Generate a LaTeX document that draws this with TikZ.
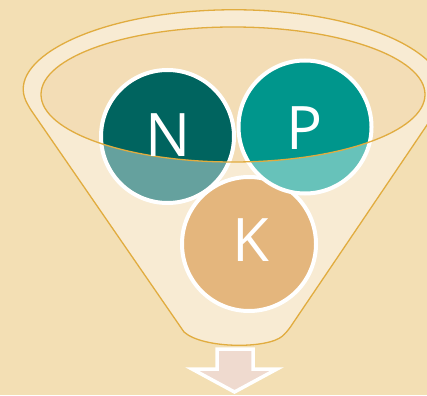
\documentclass[tikz,border=0pt]{standalone}
\usepackage{fontspec}
\setmainfont{Open Sans}
\definecolor{bg}{HTML}{F3DFB4}
\definecolor{funnelfill}{HTML}{F8EBD3}
\definecolor{innerfill}{HTML}{F3DDB6}
\definecolor{rim}{HTML}{E1AC3F}
\definecolor{ndark}{HTML}{00645F}
\definecolor{nlight}{HTML}{65A19E}
\definecolor{pdark}{HTML}{00968C}
\definecolor{plight}{HTML}{67C2BA}
\definecolor{kfill}{HTML}{E4B67D}
\definecolor{arrowfill}{HTML}{EFDACF}
\tikzset{
  ring/.style={draw=white, line width=4pt},
  letter/.style={text=white, font=\fontsize{60}{60}\selectfont, inner sep=0pt},
}
\begin{document}
\begin{tikzpicture}[x=1pt,y=-1pt]
\useasboundingbox (0,0) rectangle (427,395);
\clip (0,0) rectangle (427,395);
\fill[bg] (0,0) rectangle (427,395);
% funnel body
\coordinate (fl) at (28.2,106);
\coordinate (br) at (287,332);
\coordinate (bl) at (184,332);
\filldraw[fill=funnelfill, draw=rim, line width=1.3pt, rounded corners=6pt]
  (fl) arc[start angle=190, end angle=-10, x radius=209pt, y radius=82pt]
  -- (br) [sharp corners] .. controls (268,349) and (203,349) .. (bl) [rounded corners=6pt] -- cycle;
% inner opening
\fill[innerfill] (233,94.5) ellipse [x radius=192pt, y radius=67.5pt];
% K
\node[circle, minimum size=134pt, fill=kfill, ring] (K) at (249,244) {};
% N
\fill[ndark] (167.5,136.5) circle[radius=67pt];
\begin{scope}
  \clip (167.5,136.5) circle[radius=67pt];
  \fill[nlight, even odd rule] (0,0) rectangle (427,395) (233,94.5) ellipse [x radius=192pt, y radius=67.5pt];
\end{scope}
\node[circle, minimum size=133pt, ring] (N) at (167.5,136.5) {};
% P
\fill[pdark] (305,127) circle[radius=67pt];
\begin{scope}
  \clip (305,127) circle[radius=67pt];
  \fill[plight, even odd rule] (0,0) rectangle (427,395) (233,94.5) ellipse [x radius=192pt, y radius=67.5pt];
\end{scope}
\node[circle, minimum size=133pt, ring] (P) at (305,127) {};
% rim of opening
\draw[rim, line width=1.3pt] (233,94.5) ellipse [x radius=192pt, y radius=67.5pt];
% letters
\node[letter] (tN) at (168,135) {N};
\node[letter] (tP) at (305,128) {P};
\node[letter] (tK) at (251,240) {K};
% output arrow
\filldraw[fill=arrowfill, draw=white, line width=3.5pt, miter limit=10]
  (217,349) -- (253,349) -- (253,369) -- (277,369) -- (234.5,392) -- (192,369) -- (217,369) -- cycle;
\end{tikzpicture}
\end{document}
